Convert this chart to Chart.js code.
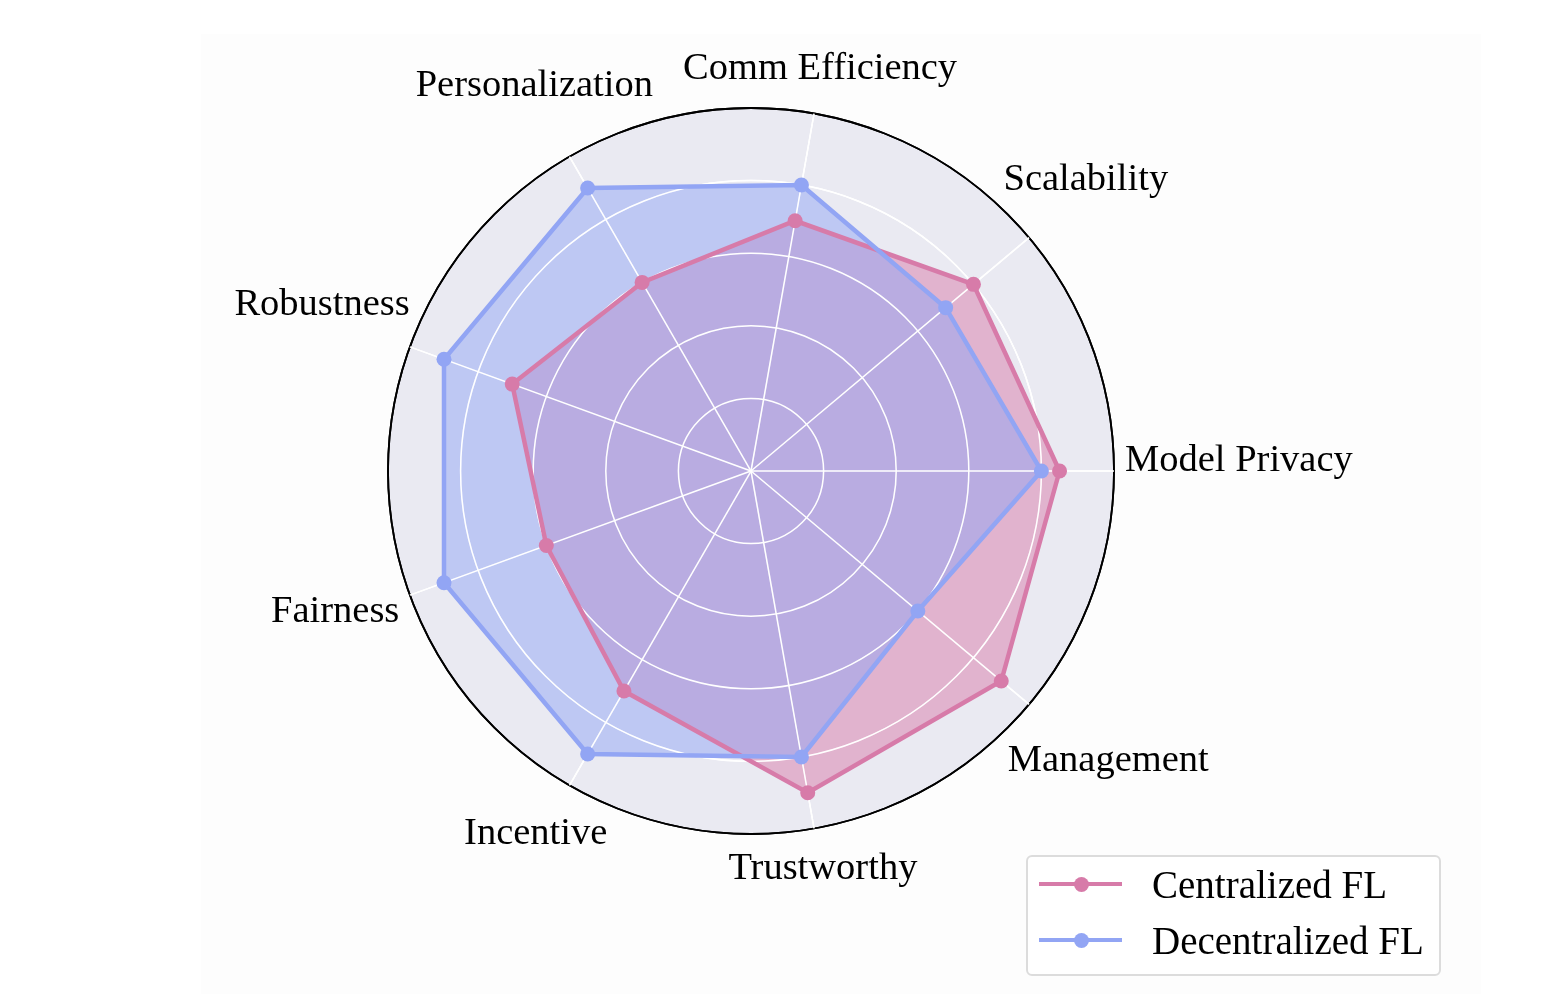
<!DOCTYPE html>
<html>
<head>
<meta charset="utf-8">
<script src="https://cdn.jsdelivr.net/npm/chart.js@4.4.0/dist/chart.umd.min.js"></script>
<style>
html,body{margin:0;padding:0;background:#ffffff;}
#wrap{position:relative;width:1568px;height:994px;overflow:hidden;background:#ffffff;}
#fig{position:absolute;left:201px;top:34px;width:1280px;height:960px;background:#fdfdfd;}
#c{position:absolute;left:0;top:0;}
#legend{position:absolute;left:1026px;top:855px;width:411px;height:117px;border:2px solid #dcdcdc;border-radius:6px;background:#ffffff;font-family:"Liberation Serif","Times New Roman",serif;font-size:39px;line-height:1;color:#000;}
.row{position:absolute;left:0;height:40px;display:flex;align-items:center;white-space:nowrap;}
.sample{position:relative;width:83px;height:15px;margin-left:11px;margin-right:30px;flex:none;}
.sample .ln{position:absolute;left:0;top:5px;width:83px;height:4.5px;}
.sample .dot{position:absolute;left:34.5px;top:0;width:15px;height:15px;border-radius:50%;}
</style>
</head>
<body>
<div id="wrap">
  <div id="fig"></div>
  <canvas id="c" width="1568" height="994"></canvas>
  <div id="legend"></div>
</div>
<script>
// ---- data (clockwise from the right-hand axis) ----
const categories = ['Model Privacy','Management','Trustworthy','Incentive','Fairness','Robustness','Personalization','Comm Efficiency','Scalability'];
const centralized   = [0.85, 0.9, 0.9, 0.7, 0.6, 0.7, 0.6, 0.7, 0.8];
const decentralized = [0.8, 0.6, 0.8, 0.9, 0.9, 0.9, 0.9, 0.8, 0.7];
const seriesNames = ['Centralized FL','Decentralized FL'];
const ringTicks = [0, 0.2, 0.4, 0.6, 0.8, 1.0];

// ---- styles ----
const lineColors = ['#D77BA9','#92A5F4'];
const fillColors = ['rgba(215,123,169,0.5)','rgba(146,165,244,0.5)'];

// grid drawn again above the fills but below the lines (like matplotlib)
const gridOverFill = {
  id: 'gridOverFill',
  beforeDatasetsDraw(chart) {
    const scale = chart.scales.r;
    chart.ctx.save();
    scale.drawGrid(chart.chartArea);
    chart.ctx.restore();
  }
};

const axisLabels = {
  id: 'axisLabels',
  afterDraw(chart, args, opts) {
    const scale = chart.scales.r;
    const ctx = chart.ctx;
    ctx.save();
    ctx.font = opts.font;
    ctx.fillStyle = '#000';
    ctx.textAlign = 'center';
    ctx.textBaseline = 'alphabetic';
    chart.data.labels.forEach((label, i) => {
      const a = scale.getIndexAngle(i) - Math.PI / 2;
      const c = Math.abs(Math.cos(a));
      const s = Math.sin(a);
      const hw = ctx.measureText(label).width / 2;
      const dist = scale.drawingArea + opts.gap + hw * c + (s > 0 ? opts.ascent : opts.descent) * Math.abs(s);
      const p = scale.getPointPosition(i, dist);
      ctx.fillText(label, p.x, p.y);
    });
    ctx.restore();
  }
};

const seriesData = [centralized, decentralized];
const datasets = seriesNames.map((name, k) => ({
  label: name,
  data: seriesData[k],
  borderColor: lineColors[k],
  backgroundColor: fillColors[k],
  pointBackgroundColor: lineColors[k],
  pointBorderColor: lineColors[k],
  pointBorderWidth: 0,
  pointRadius: 7.5,
  pointHoverRadius: 7.5,
  borderWidth: 4.5,
  fill: true,
  order: seriesNames.length - k
}));

new Chart(document.getElementById('c'), {
  type: 'radar',
  data: { labels: categories, datasets },
  options: {
    responsive: false,
    animation: false,
    layout: { padding: { left: 388, right: 454, top: 108, bottom: 160 } },
    plugins: {
      legend: { display: false },
      tooltip: { enabled: false },
      filler: { drawTime: 'beforeDatasetsDraw' },
      axisLabels: { font: '38.5px "Liberation Serif"', gap: 11, ascent: 24, descent: 0 }
    },
    elements: { line: { tension: 0 } },
    scales: {
      r: {
        min: 0,
        max: 1,
        startAngle: 90,
        backgroundColor: '#EAEAF2',
        afterBuildTicks: (scale) => { scale.ticks = ringTicks.map(v => ({ value: v })); },
        ticks: { display: false },
        pointLabels: { display: false },
        grid: {
          circular: true,
          color: (ctx) => (ctx.tick && ctx.tick.value >= 0.999) ? '#000000' : '#ffffff',
          lineWidth: (ctx) => (ctx.tick && ctx.tick.value >= 0.999) ? 1.8 : 1.5
        },
        angleLines: { color: '#ffffff', lineWidth: 1.5 }
      }
    }
  },
  plugins: [gridOverFill, axisLabels]
});

// ---- legend ----
const legend = document.getElementById('legend');
seriesNames.forEach((name, k) => {
  const row = document.createElement('div');
  row.className = 'row';
  row.style.top = (7 + k * 56) + 'px';
  row.innerHTML = '<div class="sample"><div class="ln" style="background:' + lineColors[k] + '"></div><div class="dot" style="background:' + lineColors[k] + '"></div></div><span>' + name + '</span>';
  legend.appendChild(row);
});
</script>
</body>
</html>
